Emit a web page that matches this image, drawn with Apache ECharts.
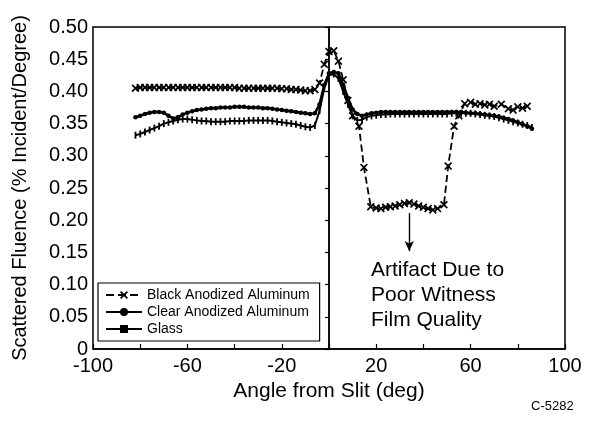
<!DOCTYPE html>
<html>
<head>
<meta charset="utf-8">
<script src="https://cdn.jsdelivr.net/npm/echarts@6/dist/echarts.min.js"></script>
<style>
  html, body { margin: 0; padding: 0; background: #fff; }
  #chart { width: 607px; height: 430px; }
</style>
</head>
<body>
<div id="chart"></div>
<script>
// Scattered fluence versus angle from the slit for three witness materials
var xTicks = [-100, -60, -20, 20, 60, 100];

var blackAngle = [-82, -80, -78, -76, -74, -72, -70, -68, -66, -64, -62, -60, -58, -56, -54, -52, -50, -48, -46, -44,
  -42, -40, -38, -36, -34, -32, -30, -28, -26, -24, -22, -20, -18, -16, -14, -12, -10, -8, -6, -4,
  -2, 0, 2, 4, 6, 8, 10, 12.7, 14.8, 17.7, 20, 22, 24, 26, 28, 30, 32, 34, 36, 38,
  40, 42, 44, 46, 48.7, 50.5, 53, 55, 57.5, 60, 62, 64, 66, 68, 70, 73, 76, 78, 80, 82, 84];
var blackFluence = [0.405, 0.406, 0.406, 0.406, 0.406, 0.406, 0.406, 0.406, 0.406, 0.406, 0.406, 0.406, 0.406, 0.406, 0.406, 0.406, 0.406, 0.406, 0.406, 0.406,
  0.406, 0.406, 0.405, 0.405, 0.405, 0.405, 0.405, 0.405, 0.405, 0.405, 0.405, 0.404, 0.404, 0.403, 0.403, 0.402, 0.401, 0.401, 0.403, 0.413,
  0.442, 0.462, 0.463, 0.447, 0.418, 0.386, 0.362, 0.346, 0.282, 0.221, 0.219, 0.218, 0.220, 0.221, 0.222, 0.224, 0.226, 0.227, 0.225, 0.222,
  0.220, 0.218, 0.216, 0.218, 0.224, 0.284, 0.346, 0.362, 0.381, 0.383, 0.380, 0.381, 0.379, 0.380, 0.377, 0.380, 0.373, 0.371, 0.376, 0.374, 0.377];

var clearAngle = [-82, -80, -78, -76, -74, -72, -70, -68, -66, -64, -62, -60, -58, -56, -54, -52, -50, -48, -46, -44,
  -42, -40, -38, -36, -34, -32, -30, -28, -26, -24, -22, -20, -18, -16, -14, -12, -10, -8, -6, -4,
  -2, 0, 2, 4, 6, 8, 10, 12, 14, 16, 18, 20, 22, 24, 26, 28, 30, 32, 34, 36,
  38, 40, 42, 44, 46, 48, 50, 52, 54, 56, 58, 60, 62, 64, 66, 68, 70, 72, 74, 76,
  78, 80, 82, 84, 86];
var clearFluence = [0.360, 0.362, 0.365, 0.367, 0.368, 0.368, 0.367, 0.362, 0.358, 0.360, 0.364, 0.367, 0.369, 0.371, 0.372, 0.373, 0.374, 0.374, 0.375, 0.375,
  0.375, 0.376, 0.376, 0.376, 0.375, 0.375, 0.375, 0.374, 0.374, 0.373, 0.372, 0.371, 0.370, 0.369, 0.368, 0.367, 0.366, 0.365, 0.366, 0.380,
  0.410, 0.428, 0.430, 0.428, 0.410, 0.390, 0.372, 0.365, 0.362, 0.364, 0.366, 0.367, 0.368, 0.368, 0.368, 0.368, 0.368, 0.368, 0.368, 0.368,
  0.368, 0.368, 0.368, 0.368, 0.368, 0.368, 0.368, 0.368, 0.368, 0.368, 0.367, 0.366, 0.366, 0.365, 0.364, 0.363, 0.362, 0.361, 0.359, 0.357,
  0.355, 0.352, 0.349, 0.346, 0.342];

var glassAngle = [-82, -80, -78, -76, -74, -72, -70, -68, -66, -64, -62, -60, -58, -56, -54, -52, -50, -48, -46, -44,
  -42, -40, -38, -36, -34, -32, -30, -28, -26, -24, -22, -20, -18, -16, -14, -12, -10, -8, -6, -4,
  -2, 0, 2, 4, 6, 8, 10, 12, 14, 16, 18, 20, 22, 24, 26, 28, 30, 32, 34, 36,
  38, 40, 42, 44, 46, 48, 50, 52, 54, 56, 58, 60, 62, 64, 66, 68, 70, 72, 74, 76,
  78, 80, 82, 84, 86];
var glassFluence = [0.332, 0.334, 0.337, 0.340, 0.343, 0.346, 0.350, 0.352, 0.354, 0.356, 0.357, 0.357, 0.356, 0.355, 0.354, 0.354, 0.353, 0.353, 0.353, 0.353,
  0.354, 0.354, 0.354, 0.354, 0.355, 0.355, 0.355, 0.355, 0.355, 0.354, 0.353, 0.352, 0.351, 0.350, 0.349, 0.347, 0.345, 0.344, 0.347, 0.370,
  0.405, 0.425, 0.427, 0.420, 0.400, 0.380, 0.362, 0.355, 0.356, 0.360, 0.362, 0.363, 0.364, 0.364, 0.365, 0.365, 0.365, 0.365, 0.365, 0.365,
  0.365, 0.365, 0.365, 0.365, 0.365, 0.365, 0.365, 0.366, 0.366, 0.366, 0.366, 0.366, 0.365, 0.364, 0.363, 0.362, 0.361, 0.359, 0.357, 0.355,
  0.353, 0.351, 0.349, 0.347, 0.344];

function pairs(xs, ys) {
  return xs.map(function (x, i) { return [x, ys[i]]; });
}

var FONT = 'Liberation Sans, Arial, sans-serif';
var crossSymbol = 'path://M0,1.5L1.5,0L5,3.5L8.5,0L10,1.5L6.5,5L10,8.5L8.5,10L5,6.5L1.5,10L0,8.5L3.5,5Z';

var chart = echarts.init(document.getElementById('chart'), null, { renderer: 'canvas' });

chart.setOption({
  backgroundColor: '#fff',
  animation: false,
  grid: {
    left: 93, right: 42, top: 27, bottom: 81,
    show: true, borderColor: '#000', borderWidth: 1.5, backgroundColor: 'transparent'
  },
  legend: {
    orient: 'vertical',
    left: 98, top: 283,
    padding: [5, 10, 5, 7],
    itemGap: 3,
    itemWidth: 36, itemHeight: 10,
    borderColor: '#000', borderWidth: 1.2,
    backgroundColor: '#fff',
    textStyle: { fontFamily: FONT, fontSize: 14, color: '#000' },
    data: ['Black Anodized Aluminum', 'Clear Anodized Aluminum', 'Glass']
  },
  xAxis: {
    type: 'value',
    min: -100, max: 100, interval: 20,
    name: 'Angle from Slit (deg)',
    nameLocation: 'middle',
    nameGap: 32,
    nameTextStyle: { fontFamily: FONT, fontSize: 21, color: '#000' },
    axisLine: { show: true, lineStyle: { color: '#000', width: 1.5 } },
    axisTick: { show: true, inside: true, length: 5, lineStyle: { color: '#000', width: 1.2 } },
    axisLabel: {
      fontFamily: FONT, fontSize: 20, color: '#000', margin: 7,
      formatter: function (v) { return xTicks.indexOf(v) >= 0 ? String(v) : ''; }
    },
    splitLine: { show: false }
  },
  yAxis: {
    type: 'value',
    min: 0, max: 0.5, interval: 0.05,
    name: 'Scattered Fluence (% Incident/Degree)',
    nameLocation: 'middle',
    nameGap: 63,
    nameTextStyle: { fontFamily: FONT, fontSize: 20, color: '#000' },
    axisLine: { show: true, lineStyle: { color: '#000', width: 1.5 } },
    axisTick: { show: true, inside: false, length: 4, lineStyle: { color: '#000', width: 1.2 } },
    axisLabel: {
      fontFamily: FONT, fontSize: 20, color: '#000', margin: 5,
      formatter: function (v) { return v === 0 ? '0' : v.toFixed(2); }
    },
    splitLine: { show: false }
  },
  series: [
    {
      name: 'Black Anodized Aluminum',
      type: 'line',
      data: pairs(blackAngle, blackFluence),
      symbol: crossSymbol,
      symbolSize: 8,
      itemStyle: { color: '#000' },
      lineStyle: { color: '#000', width: 1.8, type: 'dashed' },
      z: 4,
      markLine: {
        silent: true,
        symbol: ['none', 'arrow'],
        symbolSize: [7, 10],
        label: { show: false },
        lineStyle: { color: '#000', width: 1.4, type: 'solid' },
        data: [[{ coord: [34, 0.211] }, { coord: [34, 0.152] }]]
      }
    },
    {
      name: 'Clear Anodized Aluminum',
      type: 'line',
      data: pairs(clearAngle, clearFluence),
      symbol: 'circle',
      symbolSize: 4.5,
      itemStyle: { color: '#000' },
      lineStyle: { color: '#000', width: 2.6 },
      z: 3,
      markLine: {
        silent: true,
        symbol: ['none', 'none'],
        label: { show: false },
        lineStyle: { color: '#000', width: 1.5, type: 'solid' },
        data: [{ xAxis: 0 }]
      }
    },
    {
      name: 'Glass',
      type: 'line',
      data: pairs(glassAngle, glassFluence),
      symbol: 'rect',
      symbolSize: [1.8, 7],
      itemStyle: { color: '#000' },
      lineStyle: { color: '#000', width: 2 },
      z: 3
    }
  ],
  graphic: [
    {
      type: 'text', left: 371, top: 258,
      style: {
        text: 'Artifact Due to\nPoor Witness\nFilm Quality',
        fontFamily: FONT, fontSize: 21, lineHeight: 25, fill: '#000'
      }
    },
    {
      type: 'text', left: 531, top: 400,
      style: { text: 'C-5282', fontFamily: FONT, fontSize: 13, fill: '#000' }
    }
  ]
});
</script>
</body>
</html>
